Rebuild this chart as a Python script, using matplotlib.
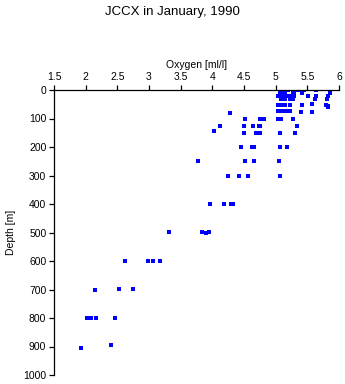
import numpy as np
import matplotlib
matplotlib.use("Agg")
import matplotlib.pyplot as plt

plt.rcParams["font.family"] = ["Liberation Sans", "DejaVu Sans"]

# oxygen [ml/l] and depth [m]
oxygen = [
    5.07, 5.10, 5.14, 5.19, 5.27, 5.36, 5.45, 5.63, 5.86,
    5.07, 5.11, 5.14, 5.27, 5.29, 5.42, 5.86,
    5.04, 5.08, 5.12, 5.16, 5.21, 5.25, 5.29, 5.51, 5.63, 5.82,
    5.08, 5.14, 5.22, 5.27, 5.62, 5.81,
    5.04, 5.08, 5.12, 5.14, 5.22, 5.42, 5.58, 5.80, 5.83,
    5.83,
    5.03, 5.07, 5.11, 5.14, 5.17, 5.22, 5.40, 5.57,
    4.28,
    4.51, 4.76, 4.81, 5.03, 5.09, 5.27,
    4.12, 4.50, 4.64, 4.73, 4.75, 5.34,
    4.02,
    4.50, 4.69, 4.75, 5.07, 5.30,
    4.45, 4.62, 4.65, 5.07, 5.18,
    3.77, 4.51, 4.65, 5.05,
    4.24, 4.42, 4.56, 5.07,
    3.96, 4.18, 4.29, 4.32,
    3.31, 3.83, 3.90, 3.94,
    2.62, 2.98, 3.07, 3.18,
    2.15, 2.53, 2.75,
    2.02, 2.08, 2.17, 2.46,
    2.40, 1.93,
]
depth = [
    0, 0, 0, 0, 0, 0, 0, 0, 0,
    10, 10, 10, 10, 10, 10, 10,
    22, 22, 22, 22, 22, 22, 22, 20, 22, 22,
    32, 32, 32, 32, 32, 30,
    52, 52, 52, 52, 52, 52, 50, 52, 57,
    60,
    75, 75, 75, 75, 75, 75, 77, 77,
    81,
    102, 102, 102, 102, 100, 102,
    126, 126, 126, 126, 126, 126,
    144,
    151, 151, 151, 151, 151,
    200, 200, 200, 200, 200,
    250, 250, 250, 250,
    302, 300, 302, 302,
    399, 401, 399, 399,
    498, 498, 502, 498,
    599, 599, 599, 599,
    700, 699, 699,
    800, 800, 800, 800,
    895, 905,
]

x_ticks = [1.5, 2, 2.5, 3, 3.5, 4, 4.5, 5, 5.5, 6]
x_labels = ["1.5", "2", "2.5", "3", "3.5", "4", "4.5", "5", "5.5", "6"]
y_ticks = list(range(0, 1001, 100))

fig = plt.figure(figsize=(3.45, 3.84), dpi=100)
ax = fig.add_axes([54 / 345, 9 / 384, 285 / 345, 285 / 384])

ax.plot(oxygen, depth, "s", color="#0000ff", markersize=2.5, markeredgewidth=0)

ax.set_xlim(1.5, 6)
ax.set_ylim(1000, 0)
ax.set_xticks(x_ticks)
ax.set_xticklabels(x_labels)
ax.set_yticks(y_ticks)

ax.xaxis.tick_top()
ax.xaxis.set_label_position("top")
ax.spines["right"].set_visible(False)
ax.spines["bottom"].set_visible(False)
for s in ("left", "top"):
    ax.spines[s].set_linewidth(0.9)
ax.tick_params(axis="both", labelsize=7.5, length=3.5, width=0.9, pad=2)

ax.set_xlabel("Oxygen [ml/l]", fontsize=7.5, labelpad=3)
ax.set_ylabel("Depth [m]", fontsize=7.5, labelpad=5)
fig.suptitle("JCCX in January, 1990", fontsize=9.5, y=0.985)

fig.savefig("out.png", dpi=100)
plt.close(fig)
